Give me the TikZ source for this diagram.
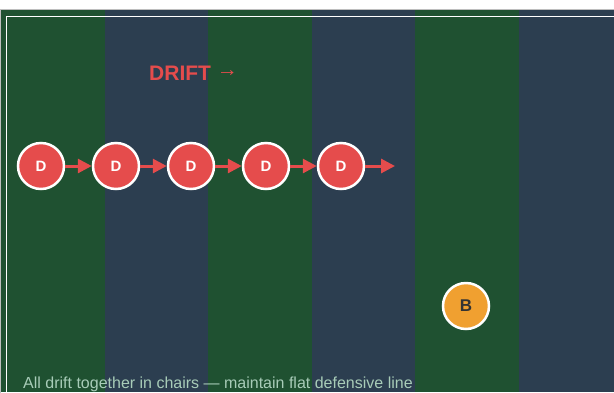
\documentclass[tikz,border=0pt]{standalone}
\usepackage{fontspec}
\setmainfont{Liberation Sans}
\usepackage{xcolor}
\definecolor{fieldGreen}{RGB}{31, 81, 49}
\definecolor{fieldBlue}{RGB}{44, 62, 80}
\definecolor{defRed}{RGB}{229, 76, 76}
\definecolor{ballOrange}{RGB}{240, 160, 48}
\definecolor{noteMint}{RGB}{168, 204, 184}
\definecolor{edgeGray}{RGB}{190, 190, 190}
\usepackage{tikz}
\usetikzlibrary{arrows.meta, positioning}

\begin{document}
\begin{tikzpicture}[x=1pt, y=-1pt,
  defender/.style={circle, draw=white, fill=defRed, line width=2.5pt,
                   minimum size=46pt, inner sep=0pt,
                   font=\fontsize{15}{15}\selectfont\bfseries, text=white},
  ball/.style={circle, draw=white, fill=ballOrange, line width=2.5pt,
               minimum size=46pt, inner sep=0pt,
               font=\fontsize{17}{17}\selectfont\bfseries, text=black!80},
  drift/.style={-{Triangle[length=14pt, width=14pt]}, line width=3pt, draw=defRed}]

  \useasboundingbox (0,0) rectangle (614,392);

  % ── Field stripes ─────────────────────────────────────────────────
  \begin{scope}
    \clip (0,0) rectangle (614,392);
    \fill[white] (0,0) rectangle (614,392);
    \fill[fieldGreen] (0,10)   rectangle (105,392);
    \fill[fieldBlue]  (105,10) rectangle (208,392);
    \fill[fieldGreen] (208,10) rectangle (312,392);
    \fill[fieldBlue]  (312,10) rectangle (415,392);
    \fill[fieldGreen] (415,10) rectangle (519,392);
    \fill[fieldBlue]  (519,10) rectangle (614,392);
    \draw[edgeGray, line width=1.2pt] (0.6,9.6) rectangle (640,420);
    \draw[white, line width=1.2pt] (6.5,16.5) rectangle (640,420);
  \end{scope}

  % ── Label ─────────────────────────────────────────────────────────
  \node[anchor=west, inner sep=0pt, text=defRed,
        font=\fontsize{21}{21}\selectfont] (driftlbl) at (149,73)
        {\textbf{DRIFT} \raisebox{0.2em}{→}};

  % ── Defenders in a flat line ──────────────────────────────────────
  \node[defender] (d1) at (41,166)  {D};
  \node[defender] (d2) at (116,166) {D};
  \node[defender] (d3) at (191,166) {D};
  \node[defender] (d4) at (266,166) {D};
  \node[defender] (d5) at (341,166) {D};
  \coordinate (d6) at (395,166);

  % ── Ball ──────────────────────────────────────────────────────────
  \node[ball] (b) at (466,306) {B};

  % ── Drift arrows ──────────────────────────────────────────────────
  \draw[drift] (d1) -- (d2);
  \draw[drift] (d2) -- (d3);
  \draw[drift] (d3) -- (d4);
  \draw[drift] (d4) -- (d5);
  \draw[drift] (d5) -- (d6);

  % ── Note ──────────────────────────────────────────────────────────
  \node[anchor=base west, inner sep=0pt, text=noteMint,
        font=\fontsize{16}{16}\selectfont] (note) at (23,388)
        {All drift together in chairs — maintain flat defensive line};

\end{tikzpicture}
\end{document}
